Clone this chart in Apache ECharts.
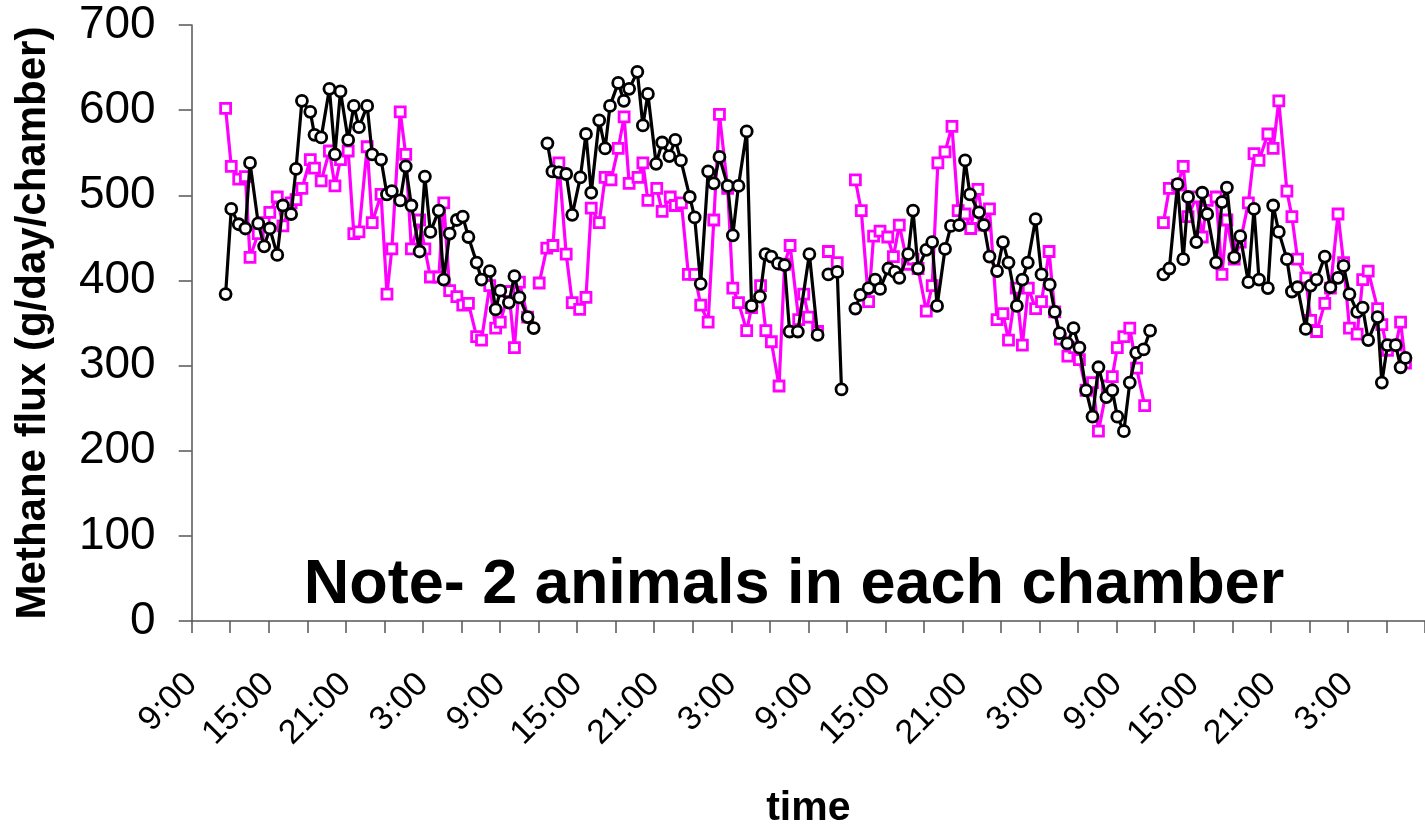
<!DOCTYPE html>
<html>
<head>
<meta charset="utf-8">
<script src="https://cdn.jsdelivr.net/npm/echarts@6/dist/echarts.min.js"></script>
<style>html,body{margin:0;padding:0;background:#fff;}#c{width:1425px;height:834px;}</style>
</head>
<body>
<div id="c"></div>
<script>
// Time in hours after 9:00 of the first day; null marks a break in the record.
const timeBlack = [
  2.64,3.08,3.66,4.18,4.54,5.18,5.64,6.08,6.66,7.10,7.74,8.12,8.58,9.23,9.56,10.08,10.72,11.15,11.58,12.18,12.62,13.02,13.66,14.05,14.74,15.20,15.58,16.23,16.66,17.10,17.74,18.15,18.58,19.23,19.62,20.08,20.64,21.10,21.54,22.18,22.56,23.20,23.66,24.02,24.69,25.12,25.51,26.15,26.62,
  null,
  27.69,28.08,28.58,29.15,29.62,30.25,30.69,31.10,31.72,32.18,32.56,33.20,33.64,34.05,34.69,35.12,35.51,36.15,36.62,37.18,37.64,38.08,38.77,39.15,39.62,40.20,40.64,41.08,41.72,42.12,42.56,43.20,43.58,44.23,44.66,45.12,45.64,46.15,46.54,47.18,48.08,48.72,
  null,
  49.56,50.25,50.58,
  null,
  51.66,52.05,52.69,53.20,53.58,54.23,54.74,55.08,55.77,56.15,56.54,57.18,57.64,58.02,58.64,59.10,59.74,60.20,60.58,61.28,61.66,62.10,62.69,63.15,63.58,64.23,64.66,65.08,65.69,66.15,66.79,67.18,67.56,68.15,68.64,69.10,69.62,70.12,70.58,71.20,71.66,72.05,72.56,73.02,73.52,74.10,74.60,
  null,
  75.64,76.10,76.74,77.18,77.56,78.20,78.66,79.05,79.74,80.20,80.58,81.15,81.62,82.25,82.69,83.08,83.77,84.18,84.62,85.25,85.64,86.08,86.72,87.10,87.56,88.20,88.64,89.23,89.66,90.12,90.72,91.15,91.58,92.31,92.64,93.08,93.72,94.10,94.48
];
const fluxBlack = [
  384,484,466,461,538,467,440,461,430,488,478,531,611,598,571,568,625,548,622,565,605,580,605,548,542,501,505,494,534,488,434,522,457,482,401,455,471,475,451,421,401,411,366,388,374,405,380,357,344,
  null,
  561,528,527,525,477,521,572,503,588,555,605,632,611,625,645,582,619,537,562,546,565,541,498,474,396,528,514,545,511,453,511,575,370,381,431,428,420,418,340,340,431,336,
  null,
  407,410,272,
  null,
  367,383,391,401,390,414,410,403,431,482,414,436,445,370,437,464,465,541,501,480,465,428,411,445,421,370,401,421,472,407,395,363,338,326,344,321,271,240,298,263,271,240,223,280,315,319,341,
  null,
  407,414,513,425,498,445,503,478,421,492,509,427,452,398,484,401,391,488,457,425,387,392,343,394,401,428,392,403,417,384,363,368,330,357,280,324,324,298,309
];
const timeMagenta = [
  2.64,3.08,3.66,4.18,4.54,5.18,5.64,6.08,6.66,7.10,7.74,8.12,8.58,9.23,9.56,10.08,10.72,11.15,11.58,12.18,12.62,13.02,13.66,14.05,14.74,15.20,15.58,16.23,16.66,17.10,17.74,18.15,18.58,19.23,19.62,20.08,20.64,21.10,21.54,22.18,22.56,23.20,23.66,24.02,24.69,25.12,25.51,26.15,
  null,
  27.05,27.64,28.12,28.58,29.15,29.62,30.20,30.69,31.10,31.72,32.18,32.64,33.20,33.66,34.05,34.74,35.12,35.51,36.20,36.62,37.25,37.64,38.12,38.66,39.15,39.62,40.20,40.64,41.08,41.72,42.12,42.56,43.20,43.58,44.28,44.69,45.12,45.72,46.15,46.58,47.25,47.64,48.02,48.72,
  null,
  49.56,50.25,
  null,
  51.66,52.12,52.69,53.08,53.58,54.18,54.62,55.08,55.72,56.15,56.54,57.18,57.64,58.08,58.64,59.18,59.66,60.20,60.64,61.20,61.66,62.10,62.69,63.15,63.58,64.18,64.66,65.12,65.69,66.15,66.74,67.18,67.62,68.20,68.72,69.10,69.62,70.12,70.58,71.28,71.66,72.05,72.56,73.02,73.55,74.18,
  null,
  75.64,76.10,76.74,77.18,77.56,78.20,78.66,79.05,79.74,80.20,80.58,81.15,81.62,82.25,82.69,83.08,83.77,84.18,84.62,85.25,85.64,86.08,86.72,87.10,87.56,88.20,88.64,89.23,89.66,90.12,90.72,91.15,91.58,92.31,92.64,93.08,93.72,94.10,94.48
];
const fluxMagenta = [
  602,534,519,522,427,455,468,480,498,464,491,495,508,542,532,517,552,511,542,552,455,457,557,468,501,384,437,598,548,437,471,437,404,404,491,388,381,371,373,334,330,394,344,351,387,321,398,357,
  null,
  397,438,441,538,431,374,366,380,485,468,521,518,555,592,514,521,538,494,508,481,498,488,491,407,407,371,351,471,595,508,391,374,341,368,394,341,328,276,419,441,354,384,357,340,
  null,
  434,421,
  null,
  518,482,375,452,458,451,428,465,419,425,414,364,394,538,551,581,482,478,461,507,465,484,354,361,330,391,324,391,367,375,434,363,331,311,321,307,271,280,223,276,287,321,334,344,297,253,
  null,
  468,508,512,534,475,498,451,494,498,407,471,425,445,491,549,541,572,555,611,505,475,425,403,353,340,373,391,478,421,344,337,401,411,367,348,318,324,351,303
];
const xTickLabels = ['9:00','15:00','21:00','3:00','9:00','15:00','21:00','3:00','9:00','15:00','21:00','3:00','9:00','15:00','21:00','3:00','9:00'];
const yTicks = [0,100,200,300,400,500,600,700];
const noteText = 'Note- 2 animals in each chamber';

const FONT = '"Liberation Sans", Arial, sans-serif';
function pairs(t, v) { return t.map((x, i) => [x === null ? NaN : x, v[i] === null ? NaN : v[i]]); }

const chart = echarts.init(document.getElementById('c'), null, {renderer: 'canvas'});
const axisColor = '#555';
chart.setOption({
  animation: false,
  backgroundColor: '#fff',
  textStyle: {fontFamily: FONT},
  grid: {left: 191.7, top: 25, bottom: 203, right: -14.7, containLabel: false},
  xAxis: {
    type: 'value', min: 0, max: 96, interval: 6,
    name: 'time', nameLocation: 'middle', nameGap: 167,
    nameTextStyle: {fontSize: 41, fontWeight: 'bold', color: '#000', fontFamily: FONT},
    axisLine: {show: true, onZero: false, lineStyle: {color: axisColor, width: 1.5}},
    axisTick: {show: true, length: 12, lineStyle: {color: axisColor, width: 1.5}},
    minorTick: {show: true, splitNumber: 2, length: 12, lineStyle: {color: axisColor, width: 1.5}},
    splitLine: {show: false}, minorSplitLine: {show: false},
    axisLabel: {
      rotate: 45, fontSize: 34, color: '#000', margin: 58, fontFamily: FONT,
      showMaxLabel: false,
      formatter: v => xTickLabels[Math.round(v / 6)] || ''
    }
  },
  yAxis: {
    type: 'value', min: yTicks[0], max: yTicks[yTicks.length - 1], interval: 100,
    name: 'Methane flux (g/day/chamber)', nameLocation: 'middle', nameGap: 137,
    nameTextStyle: {fontSize: 42, fontWeight: 'bold', color: '#000', fontFamily: FONT},
    axisLine: {show: true, lineStyle: {color: axisColor, width: 1.5}},
    axisTick: {show: true, length: 13, lineStyle: {color: axisColor, width: 1.5}},
    splitLine: {show: false},
    axisLabel: {fontSize: 46, color: '#000', margin: 36, fontFamily: FONT}
  },
  graphic: [{
    type: 'text', x: 794, y: 586, z: 100,
    style: {text: noteText, fontSize: 63, fontWeight: 'bold', fontFamily: FONT, fill: '#000', align: 'center', verticalAlign: 'middle'}
  }],
  series: [
    {
      name: 'chamber B', type: 'line', data: pairs(timeMagenta, fluxMagenta),
      connectNulls: false, showAllSymbol: true,
      symbol: 'rect', symbolSize: 10,
      lineStyle: {color: '#ff00ff', width: 3.2},
      itemStyle: {color: '#fff', borderColor: '#ff00ff', borderWidth: 2.8},
      z: 2
    },
    {
      name: 'chamber A', type: 'line', data: pairs(timeBlack, fluxBlack),
      connectNulls: false, showAllSymbol: true,
      symbol: 'circle', symbolSize: 11,
      lineStyle: {color: '#000', width: 3.2},
      itemStyle: {color: '#fff', borderColor: '#000', borderWidth: 2.8},
      z: 3
    }
  ]
});
</script>
</body>
</html>
